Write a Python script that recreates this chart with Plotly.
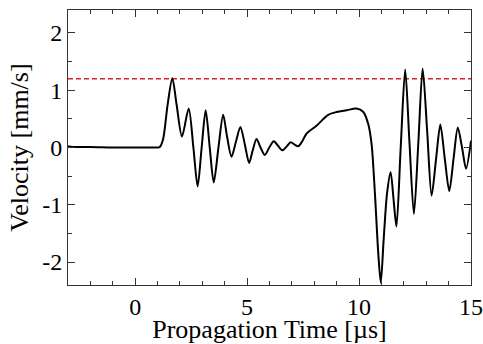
import plotly.graph_objects as go

# Digitized waveform (time in µs, velocity in mm/s)
time_us = [-3.0, -2.8, -2.0, -1.0, 0.0, 0.5, 1.0, 1.1, 1.25, 1.45, 1.66, 1.85, 2.09, 2.39,
           2.6, 2.79, 2.97, 3.15, 3.33, 3.51, 3.72, 3.93, 4.1, 4.30, 4.5, 4.70, 4.9, 5.09,
           5.25, 5.42, 5.6, 5.79, 5.99, 6.19, 6.38, 6.58, 6.77, 6.95, 7.12, 7.28,
           7.45, 7.65, 8.1, 8.62, 9.0, 9.44, 9.89, 10.19, 10.41, 10.56, 10.71, 10.86, 10.97,
           11.1, 11.25, 11.41, 11.54, 11.67, 11.86, 12.06, 12.25, 12.45, 12.65, 12.84,
           13.04, 13.24, 13.44, 13.63, 13.83, 14.03, 14.22, 14.41, 14.6, 14.78, 15.0]
velocity = [0.02, 0.01, 0.01, 0.0, 0.0, 0.0, 0.0, 0.01, 0.15, 0.75, 1.21, 0.75, 0.19, 0.68,
            0.0, -0.68, 0.0, 0.65, 0.0, -0.61, 0.0, 0.57, 0.2, -0.16, 0.1, 0.36, 0.05, -0.27,
            -0.05, 0.15, 0.0, -0.13, 0.0, 0.11, 0.03, -0.05, 0.02, 0.09, 0.05, 0.02,
            0.1, 0.24, 0.38, 0.57, 0.62, 0.65, 0.68, 0.62, 0.41, 0.06, -0.81, -1.86, -2.36,
            -1.6, -0.8, -0.43, -0.9, -1.38, 0.0, 1.36, 0.1, -1.16, 0.1, 1.38,
            0.3, -0.84, -0.2, 0.40, -0.2, -0.76, -0.2, 0.35, 0.0, -0.37, 0.12]

threshold = 1.2
x_range = [-3, 15]
y_range = [-2.4, 2.4]
x_ticks = [0, 5, 10, 15]
y_ticks = [-2, -1, 0, 1, 2]

SERIF = "Times New Roman"

fig = go.Figure()
fig.add_trace(go.Scatter(x=x_range, y=[threshold, threshold], mode="lines",
                         line=dict(color="#e02020", width=1.3, dash="5px,3px"),
                         showlegend=False, hoverinfo="skip"))
fig.add_trace(go.Scatter(x=time_us, y=velocity, mode="lines",
                         line=dict(color="black", width=2, shape="spline", smoothing=0.8),
                         showlegend=False))

axis_common = dict(showgrid=False, zeroline=False, showline=True, linecolor="#333",
                   linewidth=1, mirror="allticks", ticks="inside", ticklen=7,
                   tickcolor="#333", tickwidth=1, automargin=False,
                   tickfont=dict(family=SERIF, size=24, color="black"))

fig.update_xaxes(range=x_range, tickvals=x_ticks, ticktext=[str(v) for v in x_ticks],
                 minor=dict(dtick=1, tick0=0, ticks="inside", ticklen=4, tickcolor="#333"),
                 title=dict(text="Propagation Time [µs]", standoff=2,
                            font=dict(family=SERIF, size=26, color="black")),
                 **axis_common)
fig.update_yaxes(range=y_range, tickvals=y_ticks, ticktext=[str(v) for v in y_ticks],
                 minor=dict(dtick=0.5, tick0=0, ticks="inside", ticklen=4, tickcolor="#333"),
                 title=dict(text="Velocity [mm/s]", standoff=6,
                            font=dict(family=SERIF, size=26, color="black")),
                 **axis_common)

fig.update_layout(width=483, height=344, margin=dict(l=68, r=12, t=10, b=59),
                  font=dict(family=SERIF, color="black"),
                  plot_bgcolor="white", paper_bgcolor="white")
fig.write_html("out.html")
